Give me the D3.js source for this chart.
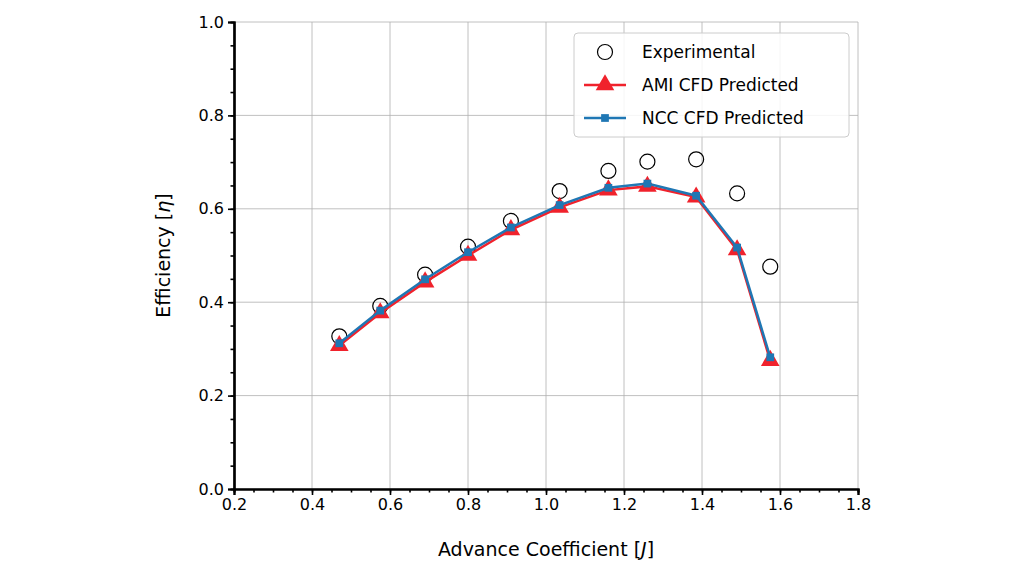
<!DOCTYPE html>
<html><head><meta charset="utf-8">
<script src="https://cdn.jsdelivr.net/npm/d3@7"></script>
<style>body{margin:0;background:#fff}text{font-family:"DejaVu Sans",sans-serif}</style>
</head><body><div id="chart"></div>
<script>
var advance = [0.47, 0.575, 0.69, 0.8, 0.91, 1.035, 1.16, 1.26, 1.385, 1.49, 1.575];
var experimental = [0.327, 0.392, 0.459, 0.519, 0.574, 0.638, 0.681, 0.701, 0.706, 0.633, 0.476];
var amiCfd = [0.307, 0.377, 0.443, 0.500, 0.555, 0.603, 0.640, 0.648, 0.625, 0.512, 0.275];
var nccCfd = [0.312, 0.382, 0.449, 0.507, 0.560, 0.608, 0.645, 0.654, 0.628, 0.517, 0.282];
var xTicks = [0.2, 0.4, 0.6, 0.8, 1.0, 1.2, 1.4, 1.6, 1.8];
var yTicks = [0.0, 0.2, 0.4, 0.6, 0.8, 1.0];

var mLeft = 234, mRight = 858, mTop = 22, mBottom = 489;

var svg = d3.select("#chart").append("svg").attr("width", 1024).attr("height", 576);

var x = d3.scaleLinear().domain([0.2, 1.8]).range([mLeft, mRight]);
var y = d3.scaleLinear().domain([0, 1]).range([mBottom, mTop]);

// grid
svg.append("g").selectAll("line").data(xTicks).join("line")
  .attr("x1", d => x(d)).attr("x2", d => x(d)).attr("y1", mTop).attr("y2", mBottom)
  .attr("stroke", "#b0b0b0").attr("stroke-width", 0.8);
svg.append("g").selectAll("line").data(yTicks).join("line")
  .attr("y1", d => y(d)).attr("y2", d => y(d)).attr("x1", mLeft).attr("x2", mRight)
  .attr("stroke", "#b0b0b0").attr("stroke-width", 0.8);

// axes
var xAxis = svg.append("g").attr("transform", "translate(0," + mBottom + ")")
  .call(d3.axisBottom(x).tickValues(xTicks).tickFormat(d3.format(".1f")).tickSize(6).tickPadding(4));
var xMinor = svg.append("g").attr("transform", "translate(0," + mBottom + ")")
  .call(d3.axisBottom(x).tickValues(d3.range(0.25, 1.8, 0.05)).tickFormat("").tickSize(3.5));
var yAxis = svg.append("g").attr("transform", "translate(" + mLeft + ",0)")
  .call(d3.axisLeft(y).tickValues(yTicks).tickFormat(d3.format(".1f")).tickSize(6).tickPadding(4));
var yMinor = svg.append("g").attr("transform", "translate(" + mLeft + ",0)")
  .call(d3.axisLeft(y).tickValues(d3.range(0.05, 1.0, 0.05)).tickFormat("").tickSize(3.5));
[xAxis, yAxis, xMinor, yMinor].forEach(g => {
  g.select(".domain").attr("stroke", "#000").attr("stroke-width", 2.2);
  g.selectAll(".tick line").attr("stroke", "#000").attr("stroke-width", 1.6);
  g.selectAll("text").attr("font-size", 16).attr("fill", "#000").style("font-family", "DejaVu Sans");
});

var xl = svg.append("text").attr("x", (mLeft + mRight) / 2).attr("y", 556).attr("text-anchor", "middle")
  .attr("font-size", 19);
xl.append("tspan").text("Advance Coefficient [");
xl.append("tspan").attr("font-style", "italic").text("J");
xl.append("tspan").text("]");
var yl = svg.append("text").attr("transform", "translate(170," + ((mTop + mBottom) / 2) + ") rotate(-90)")
  .attr("text-anchor", "middle").attr("font-size", 19);
yl.append("tspan").text("Efficiency [");
yl.append("tspan").attr("font-style", "italic").text("η");
yl.append("tspan").text("]");

var red = "#f0222c", blue = "#1f77b4";
var tri = d3.symbol().type(d3.symbolTriangle).size(150);
var sq = d3.symbol().type(d3.symbolSquare).size(60);

// experimental
svg.append("g").selectAll("circle").data(advance).join("circle")
  .attr("cx", d => x(d)).attr("cy", (d, i) => y(experimental[i])).attr("r", 7.5)
  .attr("fill", "none").attr("stroke", "#000").attr("stroke-width", 1.2);

var line = d3.line().x(d => x(d[0])).y(d => y(d[1]));
var amiPts = advance.map((d, i) => [d, amiCfd[i]]);
var nccPts = advance.map((d, i) => [d, nccCfd[i]]);
svg.append("path").attr("d", line(amiPts)).attr("fill", "none").attr("stroke", red).attr("stroke-width", 2.5);
svg.append("g").selectAll("path").data(amiPts).join("path")
  .attr("transform", d => "translate(" + x(d[0]) + "," + y(d[1]) + ")").attr("d", tri).attr("fill", red);
svg.append("path").attr("d", line(nccPts)).attr("fill", "none").attr("stroke", blue).attr("stroke-width", 2.5);
svg.append("g").selectAll("path").data(nccPts).join("path")
  .attr("transform", d => "translate(" + x(d[0]) + "," + y(d[1]) + ")").attr("d", sq).attr("fill", blue);

// legend
var lg = svg.append("g");
lg.append("rect").attr("x", 574).attr("y", 33).attr("width", 275).attr("height", 104).attr("rx", 4)
  .attr("fill", "#fff").attr("fill-opacity", 0.85).attr("stroke", "#ccc");
var items = ["Experimental", "AMI CFD Predicted", "NCC CFD Predicted"];
items.forEach((t, i) => {
  var cy = 52 + i * 33;
  if (i === 0) {
    lg.append("circle").attr("cx", 605).attr("cy", cy).attr("r", 7.5).attr("fill", "none").attr("stroke", "#000").attr("stroke-width", 1.2);
  } else {
    var c = i === 1 ? red : blue;
    lg.append("line").attr("x1", 584).attr("x2", 626).attr("y1", cy).attr("y2", cy).attr("stroke", c).attr("stroke-width", 2.5);
    lg.append("path").attr("transform", "translate(605," + cy + ")").attr("d", i === 1 ? tri : sq).attr("fill", c);
  }
  lg.append("text").attr("x", 642).attr("y", cy + 6).attr("font-size", 17).text(t);
});
</script></body></html>
